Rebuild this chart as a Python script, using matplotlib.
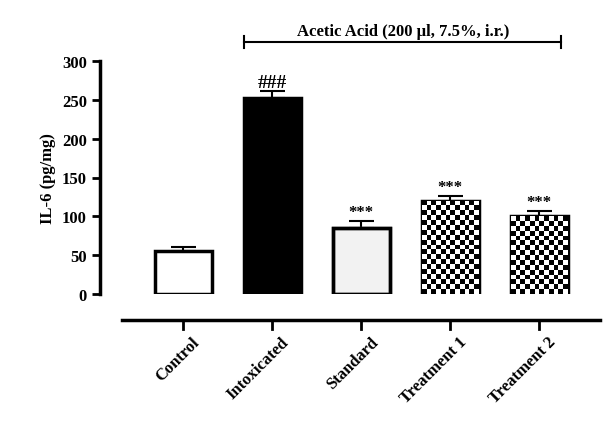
import matplotlib
matplotlib.use("Agg")
import matplotlib.pyplot as plt
import numpy as np
from matplotlib.transforms import blended_transform_factory

categories = ["Control", "Intoxicated", "Standard", "Treatment 1", "Treatment 2"]
values = [55, 253, 85, 120, 100]
errors = [5, 8, 9, 6, 7]
marks = ["", "###", "***", "***", "***"]
bracket_label = "Acetic Acid (200 \u00b5l, 7.5%, i.r.)"

plt.rcParams["font.family"] = "Liberation Serif"
plt.rcParams["font.weight"] = "bold"

fig = plt.figure(figsize=(6.14, 4.27), dpi=100)
ax = fig.add_axes([100/614, 1-295/427, 500/614, 233/427])
x = np.arange(len(categories))
w = 0.64
faces = ["white", "black", "#f2f2f2", "white", "white"]
bars = ax.bar(x, values, width=w, color=faces, edgecolor="black", linewidth=2.5, zorder=3)
bars[2].set_hatch("vvv")
bars[2].set_edgecolor("#555555")
ax.bar(x[2], values[2], width=w, color="none", edgecolor="black", linewidth=2.5, zorder=4)
ax.errorbar(x, values, yerr=[np.zeros(len(values)), errors], fmt="none", ecolor="black",
            elinewidth=1.5, capsize=9, capthick=1.5, zorder=2)

# checkerboard fill
for i in (3, 4):
    b = bars[i]
    x0, y0, bw, bh = b.get_x(), b.get_y(), b.get_width(), b.get_height()
    nx = 12
    ny = max(1, int(round(bh / 300 * 233 / (59 / nx))))
    chk = (np.add.outer(np.arange(ny), np.arange(nx)) % 2).astype(float)
    im = ax.imshow(chk, cmap="gray", extent=[x0, x0+bw, y0, y0+bh], origin="lower",
                   aspect="auto", interpolation="nearest", zorder=3)
    im.set_clip_path(b)

for xi, v, e, m in zip(x, values, errors, marks):
    if m:
        ax.text(xi, v + e + 1, m, ha="center", va="bottom", fontsize=12 if m == "***" else 14,
                fontweight="bold")

ax.set_xlim(-0.933, 4.685)
ax.set_ylim(0, 300)
ax.set_yticks([0, 50, 100, 150, 200, 250, 300])
ax.tick_params(axis="y", width=2, length=6, labelsize=12)
ax.set_xticks([])
for s in ["top", "right", "bottom"]:
    ax.spines[s].set_visible(False)
ax.spines["left"].set_linewidth(2.5)
ax.set_ylabel("IL-6 (pg/mg)", fontsize=12, fontweight="bold")

tr = blended_transform_factory(ax.transData, ax.transAxes)
ax.plot([-0.685, 4.685], [-0.112, -0.112], color="black", lw=2.5, transform=tr, clip_on=False)
for xi, c in zip(x, categories):
    ax.plot([xi, xi], [-0.112, -0.15], color="black", lw=2, transform=tr, clip_on=False)
    ax.text(xi + 0.1, -0.17, c, rotation=45, ha="right", va="top", fontsize=12,
            fontweight="bold", transform=tr, rotation_mode="anchor")

# bracket
by = 1 + (62-43)/233
ax.plot([0.69, 4.25], [by, by], color="black", lw=1.5, transform=tr, clip_on=False)
for bx in (0.69, 4.25):
    ax.plot([bx, bx], [by-0.025, by+0.025], color="black", lw=1.5, transform=tr, clip_on=False)
ax.text(2.47, by + 0.015, bracket_label, ha="center", va="bottom", fontsize=12,
        fontweight="bold", transform=tr)

fig.savefig("out.png", dpi=100)
